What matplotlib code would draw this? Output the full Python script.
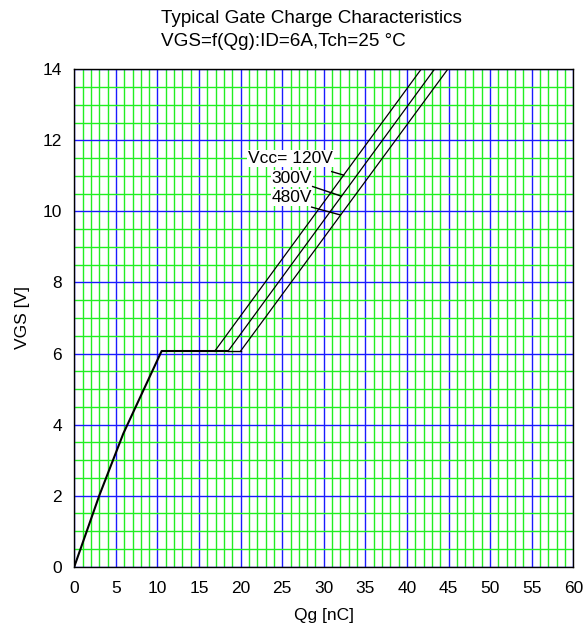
import numpy as np
import matplotlib
matplotlib.use("Agg")
import matplotlib.pyplot as plt
from matplotlib.ticker import MultipleLocator

plt.rcParams["font.family"] = ["Liberation Sans", "DejaVu Sans"]

# 共通の立ち上がり (0 → プラトー)
rise_qg = [0.0, 3.0, 5.9, 10.5]
rise_vgs = [0.0, 2.0, 3.75, 6.07]

# Vcc 別: プラトー終了点と VGS=14V に達する点
vcc_labels = ["Vcc= 120V", "300V", "480V"]
plateau_end_qg = [16.9, 18.5, 20.0]
top_qg = [41.7, 43.3, 44.9]
plateau_vgs = 6.07
top_vgs = 14.0

# ラベル位置 (x, y) と引き出し線 (x0, y0, x1, y1)
label_pos = [(20.9, 11.49), (23.7, 10.93), (23.7, 10.39)]
leaders = [
    (30.95, 11.12, 32.4, 11.02),
    (28.66, 10.70, 32.1, 10.43),
    (28.54, 10.12, 32.0, 9.90),
]

xticks = list(range(0, 61, 5))
yticks = list(range(0, 15, 2))

fig = plt.figure(figsize=(5.85, 6.34), dpi=100)
ax = fig.add_axes([0.127, 0.1062, 0.853, 0.7845])

ax.set_xlim(0, 60)
ax.set_ylim(0, 14)
ax.set_xticks(xticks)
ax.set_yticks(yticks)
ax.xaxis.set_minor_locator(MultipleLocator(1))
ax.yaxis.set_minor_locator(MultipleLocator(0.5))
ax.grid(which="minor", color="#22ee22", linewidth=1.0, zorder=0)
ax.grid(which="major", color="#1a1aff", linewidth=1.0, zorder=1)
ax.set_axisbelow(True)
ax.tick_params(which="both", length=0, labelsize=12.5)
ax.tick_params(axis="x", pad=10)
ax.tick_params(axis="y", pad=9)
for s in ax.spines.values():
    s.set_linewidth(1.0)
    s.set_color("black")

# 立ち上がり + プラトー
ax.plot(rise_qg + [plateau_end_qg[0]], rise_vgs + [plateau_vgs],
        color="black", lw=1.5, zorder=3)
ax.plot(plateau_end_qg[:2], [plateau_vgs] * 2, color="black", lw=1.5, zorder=3)
ax.plot(plateau_end_qg[1:], [plateau_vgs] * 2, color="black", lw=1.0, zorder=3)

for q0, q1 in zip(plateau_end_qg, top_qg):
    ax.plot([q0, q1], [plateau_vgs, top_vgs], color="black", lw=0.9,
            zorder=3, clip_on=True)

for (lx, ly), txt in zip(label_pos, vcc_labels):
    ax.text(lx, ly, txt, fontsize=12.5, va="center", ha="left", zorder=4,
            bbox=dict(facecolor="white", edgecolor="none", pad=0.5))
for x0, y0, x1, y1 in leaders:
    ax.plot([x0, x1], [y0, y1], color="black", lw=1.0, zorder=4)

ax.set_xlabel("Qg [nC]", fontsize=12.5, labelpad=9)
ax.set_ylabel("VGS [V]", fontsize=12.5, labelpad=9)

fig.text(0.275, 0.971, "Typical Gate Charge Characteristics", fontsize=13.6,
         ha="left", va="center")
fig.text(0.275, 0.935, "VGS=f(Qg):ID=6A,Tch=25 °C", fontsize=13.6,
         ha="left", va="center")

fig.savefig("out.png", dpi=100)
